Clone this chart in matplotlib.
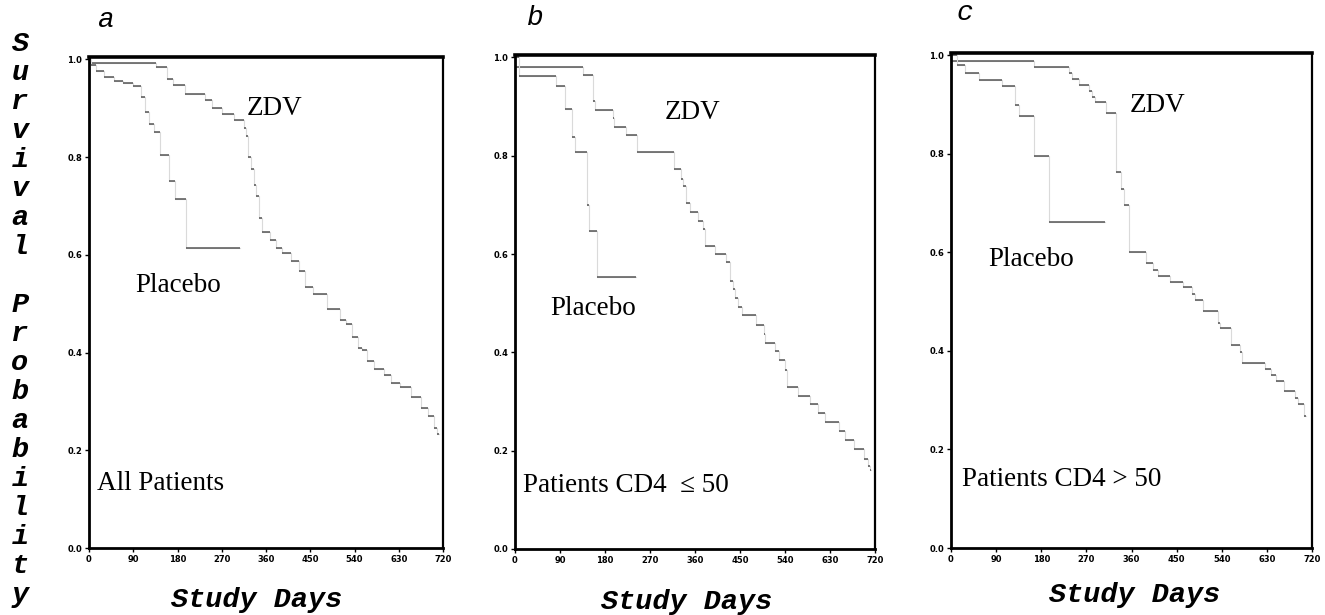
import matplotlib
matplotlib.use("Agg")
import matplotlib.pyplot as plt

# panel a : all patients  (segment start day, survival level), last entry = end of curve
zdv_a_days = [0, 137, 158, 170, 196, 236, 250, 270, 295, 315, 320, 323, 329, 336, 340, 345, 352, 368,
              380, 392, 410, 428, 440, 455, 485, 510, 523, 535, 547, 556, 565, 580, 600, 615, 632,
              655, 675, 690, 702, 708, 712]
zdv_a_surv = [0.992, 0.984, 0.96, 0.948, 0.93, 0.916, 0.90, 0.888, 0.876, 0.86, 0.844, 0.80, 0.775,
              0.743, 0.72, 0.675, 0.647, 0.631, 0.615, 0.603, 0.587, 0.567, 0.535, 0.519, 0.49, 0.467,
              0.459, 0.431, 0.41, 0.406, 0.383, 0.366, 0.354, 0.338, 0.33, 0.31, 0.286, 0.27, 0.246,
              0.234, 0.234]
pla_a_days = [0, 5, 15, 30, 50, 70, 90, 105, 113, 122, 133, 145, 163, 175, 198, 307]
pla_a_surv = [1.0, 0.988, 0.976, 0.964, 0.956, 0.952, 0.945, 0.924, 0.892, 0.868, 0.852, 0.805,
              0.751, 0.715, 0.615, 0.615]

# panel b : CD4 <= 50
zdv_b_days = [0, 135, 156, 160, 195, 198, 221, 244, 318, 331, 335, 341, 349, 365, 375, 379, 399, 422,
              430, 436, 440, 446, 453, 481, 497, 500, 520, 527, 540, 544, 565, 589, 606, 619, 648,
              659, 678, 698, 705, 709, 712]
zdv_b_surv = [0.98, 0.964, 0.912, 0.894, 0.876, 0.858, 0.842, 0.808, 0.774, 0.752, 0.738, 0.704,
              0.686, 0.668, 0.652, 0.616, 0.60, 0.584, 0.546, 0.528, 0.51, 0.492, 0.476, 0.456, 0.438,
              0.42, 0.402, 0.384, 0.364, 0.33, 0.312, 0.294, 0.276, 0.258, 0.24, 0.222, 0.204, 0.184,
              0.168, 0.16, 0.16]
pla_b_days = [0, 7, 81, 100, 113, 120, 144, 148, 164, 242]
pla_b_surv = [1.0, 0.962, 0.942, 0.896, 0.838, 0.808, 0.70, 0.646, 0.554, 0.554]

# panel c : CD4 > 50
zdv_c_days = [0, 165, 235, 242, 255, 275, 282, 288, 309, 329, 339, 346, 356, 389, 402, 413, 437, 462,
              481, 486, 503, 532, 536, 559, 576, 580, 626, 639, 649, 665, 686, 692, 705, 709]
zdv_c_surv = [0.988, 0.976, 0.964, 0.952, 0.94, 0.928, 0.916, 0.906, 0.884, 0.764, 0.728, 0.696,
              0.60, 0.578, 0.564, 0.552, 0.54, 0.53, 0.516, 0.504, 0.482, 0.456, 0.446, 0.412, 0.398,
              0.376, 0.364, 0.352, 0.34, 0.318, 0.304, 0.292, 0.268, 0.268]
pla_c_days = [0, 12, 28, 56, 102, 128, 136, 165, 196, 307]
pla_c_surv = [1.0, 0.98, 0.964, 0.95, 0.938, 0.90, 0.878, 0.796, 0.662, 0.662]

x_ticks = [0, 90, 180, 270, 360, 450, 540, 630, 720]
y_ticks = [0.0, 0.2, 0.4, 0.6, 0.8, 1.0]
panel_letters = ["a", "b", "c"]
subsets = ["All Patients", "Patients CD4  \u2264 50", "Patients CD4 > 50"]
ylabel = "Survival Probability"

serif = ["Liberation Serif", "DejaVu Serif"]
mono = ["Liberation Mono", "DejaVu Sans Mono"]

fig = plt.figure(figsize=(13.25, 6.15), dpi=100)

rects = [[89 / 1325, 1 - 548 / 615, 354 / 1325, 491 / 615],
         [515 / 1325, 1 - 549 / 615, 360 / 1325, 494 / 615],
         [951 / 1325, 1 - 548 / 615, 361 / 1325, 495 / 615]]
curves = [(zdv_a_days, zdv_a_surv, pla_a_days, pla_a_surv),
          (zdv_b_days, zdv_b_surv, pla_b_days, pla_b_surv),
          (zdv_c_days, zdv_c_surv, pla_c_days, pla_c_surv)]
# label spots (data coords): ZDV, Placebo, subset
spots = [((321, 0.90), (94, 0.538), (16, 0.132)),
         ((300, 0.889), (70, 0.49), (16, 0.13)),
         ((357, 0.899), (74, 0.586), (22, 0.139))]
letter_pos = [(105, 20), (535, 18), (965, 13)]
xlab_pos = [(257, 600), (687, 602), (1135, 595)]

for i in range(3):
    ax = fig.add_axes(rects[i])
    zd, zs, pd_, ps = curves[i]
    for days, surv in [(zd, zs), (pd_, ps)]:
        # scanned look: faint risers, darker flat parts
        ax.step(days, surv, where="post", color="#dadada", lw=0.8)
        ax.hlines(surv[:-1], days[:-1], days[1:], color="#555555", lw=1.1)
    ax.set_xlim(0, 720)
    ax.set_ylim(0, 1.005)
    ax.set_xticks(x_ticks)
    ax.set_yticks(y_ticks)
    ax.set_yticklabels(["%.1f" % v for v in y_ticks])
    ax.tick_params(labelsize=6, length=3, width=1, pad=2, colors="black")
    for lab in ax.get_xticklabels() + ax.get_yticklabels():
        lab.set_fontweight("bold")
    ax.spines["top"].set_linewidth(2.6)
    ax.spines["left"].set_linewidth(2.0)
    ax.spines["bottom"].set_linewidth(2.0)
    ax.spines["right"].set_linewidth(1.6)

    (zx, zy), (px, py), (sx, sy) = spots[i]
    ax.text(zx, zy, "ZDV", family=serif, fontsize=19.5, ha="left", va="center")
    ax.text(px, py, "Placebo", family=serif, fontsize=19.5, ha="left", va="center")
    ax.text(sx, sy, subsets[i], family=serif, fontsize=19.5, ha="left", va="center")

    lx, ly = letter_pos[i]
    fig.text(lx / 1325, 1 - ly / 615, panel_letters[i], family=mono, style="italic",
             fontsize=20, ha="center", va="center")
    sx_, sy_ = xlab_pos[i]
    fig.text(sx_ / 1325, 1 - sy_ / 615, "Study Days", family=mono, style="italic",
             weight="bold", fontsize=20.5, ha="center", va="center")

# stacked vertical y label
for k, ch in enumerate(ylabel):
    if ch == " ":
        continue
    fig.text(20 / 1325, 1 - (44 + k * 29.0) / 615, ch, family=mono, style="italic",
             weight="bold", fontsize=20.5, ha="center", va="center")

fig.savefig("out.png", dpi=100)
